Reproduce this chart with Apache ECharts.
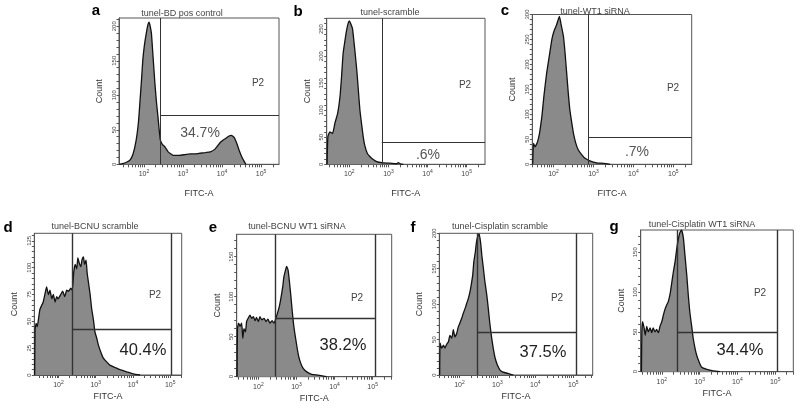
<!DOCTYPE html>
<html><head><meta charset="utf-8">
<script src="https://cdn.jsdelivr.net/npm/echarts@6/dist/echarts.min.js"></script>
<style>html,body{margin:0;padding:0;background:#fff}#c{width:800px;height:415px}</style>
</head><body><div id="c"></div><script>
// ---------- data ----------
const panelLetters = ['a','b','c','d','e','f','g'];
const panelTitles = ['tunel-BD pos control','tunel-scramble','tunel-WT1 siRNA','tunel-BCNU scramble','tunel-BCNU WT1 siRNA','tunel-Cisplatin scramble','tunel-Cisplatin WT1 siRNA'];
const gateNames = ['P2','P2','P2','P2','P2','P2','P2'];
const percentLabels = ['34.7%','.6%','.7%','40.4%','38.2%','37.5%','34.4%'];
const xAxisName = 'FITC-A';
const yAxisName = 'Count';
const xTickExponents = [2,3,4,5];

// histogram points: [log10(FITC-A), count]
const histA = [[1.37,0],[1.45,1],[1.55,3],[1.64,6],[1.72,15],[1.8,35],[1.86,62],[1.9,93],[1.94,125],[1.97,151],[2.01,172],[2.06,190],[2.1,202],[2.13,206],[2.16,200],[2.19,190],[2.23,158],[2.28,117],[2.32,90],[2.36,68],[2.39,50],[2.42,35],[2.47,29],[2.54,25],[2.62,18],[2.75,13],[2.9,13],[3.05,14],[3.18,15],[3.3,15],[3.44,16],[3.58,17],[3.7,18],[3.82,22],[3.96,32],[4.08,37],[4.18,41],[4.24,42],[4.31,39],[4.38,30],[4.44,20],[4.52,9],[4.61,0]];
const histB = [[1.43,0],[1.45,51],[1.5,60],[1.57,57],[1.63,76],[1.7,94],[1.76,125],[1.8,162],[1.84,205],[1.89,230],[1.93,248],[1.97,261],[2.0,265],[2.03,261],[2.08,251],[2.14,211],[2.19,174],[2.23,137],[2.27,100],[2.32,70],[2.36,48],[2.4,33],[2.46,20],[2.53,14],[2.61,9],[2.7,5],[2.83,3],[3.04,2],[3.2,1],[3.25,3],[3.3,1],[3.38,0]];
const histC = [[1.48,0],[1.5,42],[1.54,35],[1.6,45],[1.65,62],[1.71,96],[1.76,136],[1.83,183],[1.9,219],[1.96,250],[2.01,266],[2.08,280],[2.12,290],[2.15,296],[2.19,280],[2.25,256],[2.29,223],[2.33,183],[2.37,143],[2.41,109],[2.46,82],[2.5,62],[2.56,42],[2.62,29],[2.71,19],[2.79,12],[2.91,7],[3.08,3],[3.25,2],[3.42,0]];
const histD = [[1.36,0],[1.37,42],[1.4,48],[1.43,45],[1.47,54],[1.5,61],[1.55,65],[1.59,68],[1.64,76],[1.68,82],[1.73,75],[1.77,79],[1.82,71],[1.86,75],[1.91,68],[1.95,73],[1.99,71],[2.06,75],[2.11,78],[2.17,73],[2.22,79],[2.27,78],[2.33,81],[2.37,79],[2.41,96],[2.45,103],[2.49,99],[2.52,109],[2.56,104],[2.6,101],[2.63,107],[2.67,110],[2.7,103],[2.74,107],[2.77,95],[2.81,85],[2.85,75],[2.89,62],[2.94,51],[2.98,40],[3.03,34],[3.07,28],[3.13,22],[3.2,16],[3.3,12],[3.39,9],[3.52,7],[3.65,5],[3.83,3],[4.01,1],[4.19,0]];
const histE = [[1.44,0],[1.45,60],[1.48,67],[1.52,63],[1.56,67],[1.59,48],[1.62,60],[1.66,56],[1.69,69],[1.73,73],[1.78,77],[1.82,73],[1.87,75],[1.91,70],[1.95,74],[2.0,69],[2.04,75],[2.09,71],[2.15,73],[2.2,69],[2.25,72],[2.3,67],[2.36,70],[2.41,67],[2.46,73],[2.51,81],[2.55,88],[2.59,98],[2.64,113],[2.67,125],[2.71,133],[2.74,138],[2.78,133],[2.81,121],[2.85,102],[2.89,81],[2.93,63],[2.99,44],[3.05,27],[3.11,17],[3.18,10],[3.27,6],[3.4,3],[3.57,2],[3.79,0]];
const histF = [[1.48,0],[1.49,45],[1.53,38],[1.58,42],[1.62,38],[1.66,43],[1.71,47],[1.75,56],[1.8,52],[1.84,64],[1.88,54],[1.93,59],[1.97,68],[2.01,73],[2.06,80],[2.1,87],[2.15,94],[2.19,101],[2.23,107],[2.28,118],[2.31,127],[2.35,141],[2.38,160],[2.42,174],[2.45,188],[2.49,197],[2.52,199],[2.56,186],[2.59,169],[2.63,151],[2.67,132],[2.72,113],[2.76,94],[2.8,73],[2.85,52],[2.89,38],[2.94,24],[3.0,14],[3.07,7],[3.15,4],[3.29,2],[3.42,0]];
const histG = [[1.46,0],[1.47,50],[1.49,63],[1.53,55],[1.56,46],[1.6,57],[1.64,50],[1.69,55],[1.73,49],[1.77,55],[1.82,50],[1.86,53],[1.91,49],[1.95,57],[2.0,63],[2.04,71],[2.08,78],[2.13,84],[2.17,88],[2.22,98],[2.26,111],[2.3,124],[2.35,138],[2.39,153],[2.43,165],[2.48,175],[2.52,178],[2.57,168],[2.61,147],[2.66,121],[2.7,96],[2.74,75],[2.79,57],[2.83,42],[2.88,29],[2.92,21],[2.98,13],[3.05,6],[3.19,3],[3.36,1],[3.54,0]];
const histograms = [histA, histB, histC, histD, histE, histF, histG];

// gates (data units) and axis ranges
const gateLeft  = [2.42, 2.83, 2.87, 2.38, 2.44, 2.47, 2.41];
const gateRight = [null, null, null, 5.04, 5.06, 5.07, 5.06];
const gateLevel = [71, 40, 55, 43, 73, 61, 50];
const xMin = [1.36, 1.42, 1.47, 1.35, 1.43, 1.47, 1.44];
const xMax = [5.46, 5.47, 5.46, 5.31, 5.50, 5.51, 5.48];
const yMax = [212, 270, 300, 132, 178, 200, 178];
const yStep = [50, 50, 50, 25, 50, 50, 50];
const yMinorStep = [10, 10, 10, 5, 10, 10, 10];

// ---------- layout (pixels) ----------
const boxes = [[119,18,160,146.3],[326.7,18.3,158.3,146],[532.3,14.5,159.4,149.8],[34.3,233.3,147.4,141.7],[236.7,234.3,155,142.4],[439.3,233.3,153.4,141.7],[640.7,230,152.6,141.7]];
const letterPos = [[96,11],[298,12],[505,11],[8,228],[213,228],[413,228],[614,227]];
const titlePos = [[182,14],[390,13],[595,12],[95,227],[297,227],[500,227],[702,225]];
const p2Pos = [[258,83],[465,85],[673,88],[155,295],[357,298],[557,298],[760,293]];
const pctPos = [[200,133],[428,155],[637,152],[143,350],[343,345],[543,352],[740,350]];
const bottomRow = [false,false,false,true,true,true,true];

const FONT = '"Liberation Sans", Arial, sans-serif';
const grids = [], xAxes = [], yAxes = [], series = [], graphics = [];

histograms.forEach((hist, i) => {
  const [l, t, w, h] = boxes[i];
  grids.push({left: l, top: t, width: w, height: h, show: true, borderColor: '#555', borderWidth: 1, backgroundColor: '#fff', containLabel: false, outerBoundsMode: 'none'});
  // log-spaced minor ticks
  const tickVals = [];
  for (let n = 1; n <= 5; n++) for (let k = 1; k <= 9; k++) {
    const v = n + Math.log10(k);
    if (v > xMin[i] && v < xMax[i]) tickVals.push(v);
  }
  xAxes.push({
    gridIndex: i, type: 'value', min: xMin[i], max: xMax[i],
    name: xAxisName, nameLocation: 'middle', nameGap: bottomRow[i] ? 17 : 25,
    nameTextStyle: {fontFamily: FONT, fontSize: 9, color: '#333'},
    axisLine: {show: true, lineStyle: {color: '#555', width: 1}},
    axisTick: {show: true, length: 3, lineStyle: {color: '#555'}, customValues: tickVals},
    axisLabel: {show: true, margin: 5, customValues: xTickExponents,
      formatter: v => '{b|10}{s|' + Math.round(v) + '}',
      rich: {b: {fontFamily: FONT, fontSize: 7, color: '#444'}, s: {fontFamily: FONT, fontSize: 5, color: '#444', padding: [0,0,5,0]}}},
    splitLine: {show: false}
  });
  const yTicks = [], yLabels = [];
  for (let v = 0; v <= yMax[i]; v += yMinorStep[i]) yTicks.push(v);
  for (let v = 0; v <= yMax[i]; v += yStep[i]) yLabels.push(v);
  yAxes.push({
    gridIndex: i, type: 'value', min: 0, max: yMax[i],
    name: yAxisName, nameLocation: 'middle', nameRotate: 90, nameGap: 15,
    nameTextStyle: {fontFamily: FONT, fontSize: 9, color: '#333'},
    axisLine: {show: true, lineStyle: {color: '#555', width: 1}},
    axisTick: {show: true, length: 2.5, lineStyle: {color: '#555'}, customValues: yTicks},
    axisLabel: {show: true, rotate: 90, margin: 2, fontFamily: FONT, fontSize: 6, color: '#444', customValues: yLabels},
    splitLine: {show: false}
  });
  const xr = gateRight[i] != null ? gateRight[i] : xMax[i];
  const mlData = [
    [{coord: [gateLeft[i], 0]}, {coord: [gateLeft[i], yMax[i]]}],
    [{coord: [gateLeft[i], gateLevel[i]]}, {coord: [xr, gateLevel[i]]}]
  ];
  if (gateRight[i] != null) mlData.push([{coord: [gateRight[i], 0]}, {coord: [gateRight[i], yMax[i]]}]);
  series.push({
    type: 'line', xAxisIndex: i, yAxisIndex: i, data: hist, showSymbol: false, symbol: 'none',
    smooth: 0.15, animation: false, silent: true,
    lineStyle: {color: '#111', width: 1.3},
    areaStyle: {color: '#8a8a8a', opacity: 1},
    markLine: {silent: true, symbol: ['none','none'], animation: false, label: {show: false},
      lineStyle: {color: '#333', width: bottomRow[i] ? 1.4 : 1, type: 'solid'}, data: mlData}
  });
  graphics.push({type: 'text', x: letterPos[i][0], y: letterPos[i][1], style: {text: panelLetters[i], fontFamily: FONT, fontSize: 15, fontWeight: 'bold', fill: '#000', align: 'center', verticalAlign: 'middle'}});
  graphics.push({type: 'text', x: titlePos[i][0], y: titlePos[i][1], style: {text: panelTitles[i], fontFamily: FONT, fontSize: 9, fill: '#444', align: 'center', verticalAlign: 'middle'}});
  graphics.push({type: 'text', x: p2Pos[i][0], y: p2Pos[i][1], z: 100, style: {text: gateNames[i], fontFamily: FONT, fontSize: 10, fill: '#444', align: 'center', verticalAlign: 'middle'}});
  graphics.push({type: 'text', x: pctPos[i][0], y: pctPos[i][1], z: 100, style: {text: percentLabels[i], fontFamily: FONT, fontSize: bottomRow[i] ? 16.5 : 14, fill: bottomRow[i] ? '#222' : '#555', align: 'center', verticalAlign: 'middle'}});
});

const chart = echarts.init(document.getElementById('c'), null, {renderer: 'canvas'});
chart.setOption({animation: false, backgroundColor: '#fff', grid: grids, xAxis: xAxes, yAxis: yAxes, series: series, graphic: graphics});
</script></body></html>
